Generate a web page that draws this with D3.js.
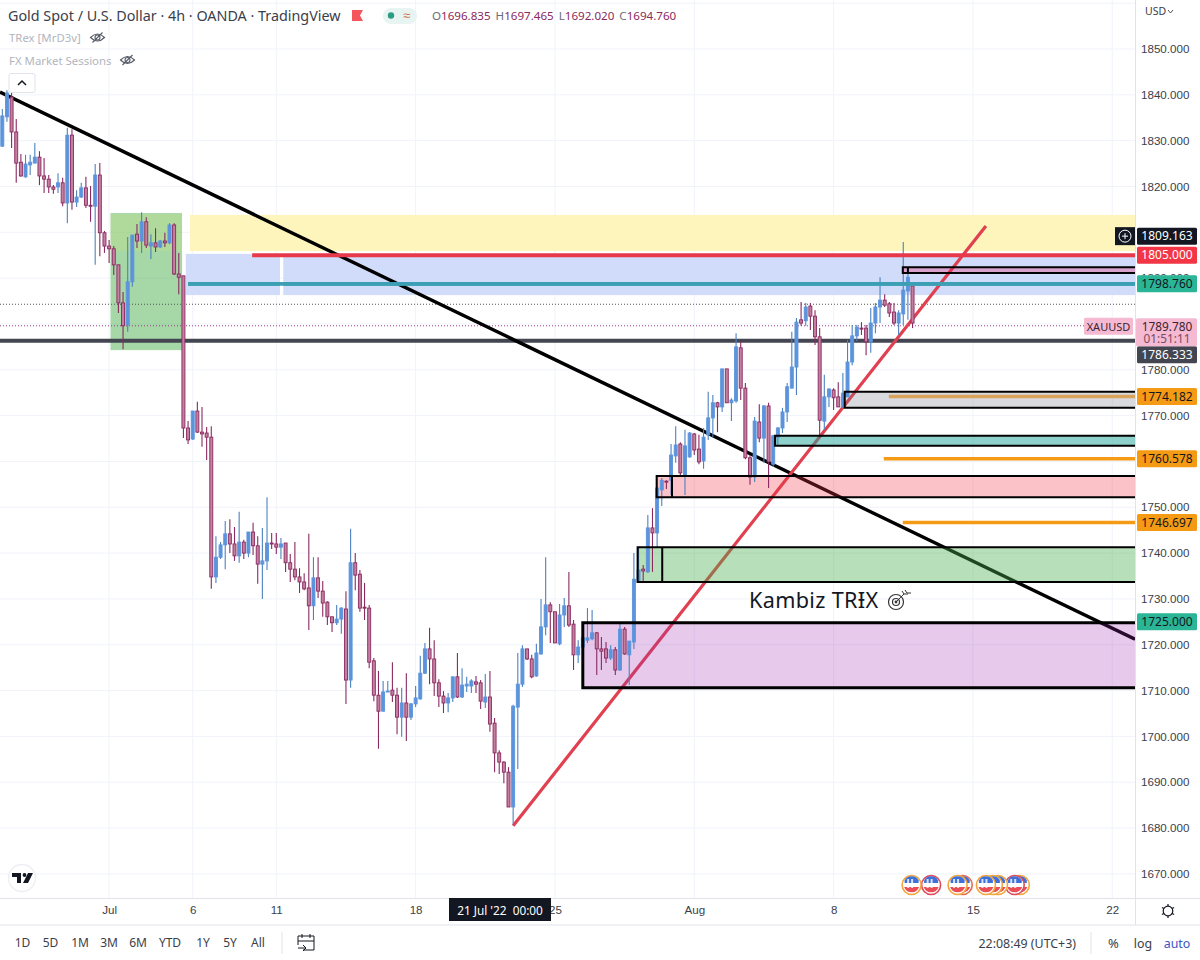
<!DOCTYPE html>
<html>
<head>
<meta charset="utf-8">
<title>XAUUSD 4h</title>
<script src="https://cdn.jsdelivr.net/npm/d3@7/dist/d3.min.js"></script>
<style>
html,body{margin:0;padding:0;background:#fff;}
svg{display:block;font-family:"Noto Sans",sans-serif;}
</style>
</head>
<body>
<svg id="chart" width="1200" height="960"></svg>
<script>
// 4h gold candles, one entry per bar
const opens = [
1828.8,1835.2,1839.5,1831.9,1825.3,1822.1,1824.7,1825.1,1826.4,1822.3,
1821.6,1819.9,1819.9,1820.8,1816.4,1831.2,1816.6,1817.7,1819.7,1815.9,
1815.7,1822.5,1809.9,1807.0,1806.4,1802.9,1794.6,1789.8,1799.2,1809.6,
1808.1,1812.3,1807.0,1807.7,1806.8,1808.1,1807.7,1811.6,1800.9,1800.5,
1767.3,1764.9,1771.0,1766.4,1766.2,1765.3,1734.8,1739.1,1741.8,1744.2,
1742.0,1739.4,1742.4,1740.0,1744.6,1741.6,1737.6,1738.3,1742.2,1742.0,
1741.3,1742.2,1737.9,1736.5,1734.8,1733.7,1732.4,1728.5,1734.6,1731.7,
1729.3,1726.1,1724.8,1725.6,1727.8,1712.3,1737.9,1735.4,1728.2,1728.0,
1716.5,1709.0,1705.5,1709.7,1710.1,1709.0,1704.2,1707.3,1704.2,1707.1,
1708.2,1713.8,1719.1,1716.9,1711.7,1708.8,1707.3,1708.4,1713.0,1708.6,
1711.0,1711.0,1711.9,1711.7,1707.5,1708.6,1702.9,1696.4,1694.4,1692.2,
1684.6,1706.4,1711.4,1719.1,1716.9,1713.2,1718.0,1723.9,1728.7,1727.2,
1720.2,1726.5,1728.5,1724.5,1717.8,1719.5,1721.0,1721.3,1722.6,1719.1,
1719.1,1717.1,1718.9,1714.5,1723.4,1717.8,1720.6,1733.7,1736.5,1735.9,
1745.5,1744.4,1753.8,1755.7,1755.9,1761.2,1763.8,1757.0,1761.0,1766.0,
1762.7,1760.1,1765.8,1769.5,1772.8,1771.9,1780.2,1772.8,1773.2,1784.8,
1776.0,1760.8,1756.6,1768.6,1765.1,1772.1,1759.4,1765.3,1767.3,1770.8,
1776.0,1780.6,1790.9,1790.7,1793.9,1791.7,1787.2,1768.8,1774.1,1775.6,
1774.1,1771.9,1774.1,1781.7,1787.4,1789.1,1789.1,1786.1,1790.2,1793.7,
1795.2,1794.4,1792.6,1790.2,1792.2,1797.2,1798.3];
const closes = [
1835.4,1840.4,1831.9,1825.1,1822.3,1824.9,1825.3,1826.4,1822.3,1821.6,
1819.9,1819.4,1820.8,1816.4,1831.2,1816.6,1817.7,1819.7,1815.9,1815.7,
1822.5,1809.9,1807.0,1806.4,1802.9,1794.6,1789.6,1799.2,1809.4,1808.1,
1812.3,1807.2,1807.7,1806.8,1808.1,1807.7,1811.6,1800.9,1800.2,1767.3,
1764.7,1771.0,1766.4,1766.0,1765.3,1734.8,1739.1,1741.8,1744.2,1742.0,
1739.4,1742.4,1740.0,1744.6,1741.6,1737.6,1738.3,1742.2,1742.0,1741.3,
1742.0,1737.9,1736.5,1734.8,1733.7,1732.2,1728.5,1734.6,1731.7,1729.1,
1726.1,1724.8,1725.6,1728.0,1712.3,1737.9,1735.2,1728.0,1728.0,1716.2,
1709.0,1705.5,1709.7,1709.9,1709.0,1704.2,1707.3,1704.2,1707.1,1708.4,
1713.8,1719.1,1716.9,1711.7,1708.8,1707.3,1708.4,1713.0,1708.6,1711.2,
1711.4,1712.1,1711.4,1707.7,1708.6,1702.7,1696.4,1694.4,1692.2,1684.6,
1706.6,1711.4,1719.1,1716.9,1713.0,1718.2,1723.9,1728.7,1727.2,1720.4,
1726.5,1728.5,1724.3,1717.8,1719.5,1721.5,1721.5,1722.6,1719.1,1718.6,
1717.1,1718.9,1714.5,1723.4,1718.0,1720.8,1734.3,1736.3,1736.1,1745.5,
1744.4,1754.2,1755.9,1755.5,1761.4,1763.6,1757.5,1763.4,1766.2,1762.5,
1759.9,1765.3,1769.5,1772.8,1771.9,1780.2,1772.8,1773.4,1785.0,1776.0,
1760.8,1756.6,1768.8,1765.1,1772.1,1759.9,1765.6,1767.3,1770.8,1776.3,
1780.6,1790.4,1790.2,1793.7,1791.7,1787.2,1769.0,1774.1,1775.8,1773.9,
1771.9,1774.9,1781.7,1787.4,1789.3,1788.9,1786.1,1790.2,1793.7,1795.2,
1794.1,1792.4,1790.2,1792.4,1797.4,1800.2,1790.2];
const highs = [
1836.9,1841.0,1840.4,1834.7,1827.1,1826.9,1826.9,1829.5,1827.7,1826.2,
1822.5,1820.3,1822.9,1821.9,1832.8,1832.5,1819.2,1820.8,1822.1,1820.1,
1824.9,1825.1,1810.3,1808.3,1807.0,1802.9,1797.0,1809.0,1809.4,1811.8,
1814.4,1813.3,1809.6,1810.9,1808.3,1809.9,1812.0,1812.0,1805.5,1800.5,
1768.8,1771.0,1773.0,1771.9,1767.5,1767.7,1743.7,1742.4,1747.0,1747.4,
1745.7,1749.0,1742.9,1744.6,1746.6,1743.7,1745.5,1752.2,1744.4,1744.4,
1743.3,1742.2,1739.8,1742.4,1736.7,1735.6,1744.2,1739.1,1739.1,1733.9,
1729.5,1726.1,1728.7,1728.2,1731.7,1745.3,1740.0,1736.3,1733.5,1728.7,
1717.1,1714.3,1712.1,1712.1,1716.2,1710.6,1710.6,1713.8,1707.3,1711.0,
1717.6,1720.4,1723.7,1721.0,1712.5,1709.9,1709.5,1713.0,1718.2,1714.9,
1713.0,1712.5,1713.2,1712.3,1713.6,1714.3,1704.0,1697.0,1694.6,1693.3,
1706.9,1718.2,1719.9,1719.1,1717.8,1720.2,1730.0,1739.1,1729.3,1727.2,
1728.9,1730.2,1735.9,1725.4,1721.0,1722.1,1728.0,1727.6,1722.8,1721.7,
1720.6,1719.9,1719.5,1724.8,1723.9,1720.8,1740.0,1741.3,1737.4,1748.3,
1749.8,1756.6,1756.4,1755.9,1763.8,1767.7,1764.2,1766.9,1766.4,1766.2,
1765.8,1767.3,1775.2,1774.5,1773.0,1780.2,1780.2,1773.8,1788.0,1786.1,
1777.1,1761.4,1769.7,1772.5,1772.3,1772.8,1765.8,1767.5,1771.7,1777.1,
1788.3,1791.3,1794.8,1794.6,1794.6,1793.0,1789.1,1778.9,1776.0,1776.0,
1777.3,1779.3,1786.5,1789.8,1789.8,1790.4,1789.8,1793.5,1794.6,1800.2,
1796.5,1794.8,1794.6,1793.0,1807.9,1802.2,1798.3];
const lows = [
1828.6,1834.1,1828.4,1820.8,1822.1,1821.9,1822.5,1825.1,1820.3,1818.6,
1818.6,1818.4,1818.6,1815.7,1812.0,1814.9,1815.5,1817.5,1815.3,1812.3,
1802.9,1804.8,1805.5,1803.3,1800.7,1792.4,1784.5,1788.3,1798.1,1806.6,
1805.5,1806.6,1804.2,1805.7,1806.6,1806.8,1807.4,1800.7,1796.5,1765.1,
1763.8,1764.7,1766.2,1763.2,1760.3,1732.2,1733.5,1738.7,1736.5,1740.0,
1738.3,1737.9,1738.7,1739.1,1739.6,1733.3,1730.0,1736.3,1740.9,1739.8,
1738.7,1735.9,1733.7,1734.1,1731.3,1731.9,1723.2,1725.4,1730.2,1726.1,
1724.3,1722.8,1724.3,1722.4,1707.1,1710.6,1731.9,1727.2,1725.4,1714.9,
1707.7,1697.3,1705.5,1709.7,1707.5,1700.5,1699.9,1699.0,1703.6,1706.4,
1708.0,1713.6,1711.4,1708.8,1706.4,1705.1,1705.3,1707.5,1708.4,1708.4,
1709.7,1709.5,1709.5,1706.0,1706.2,1701.0,1692.2,1691.8,1689.8,1684.6,
1680.7,1692.9,1710.8,1716.7,1712.7,1713.0,1717.8,1722.1,1720.4,1720.4,
1719.9,1723.9,1723.9,1714.5,1716.0,1717.8,1720.4,1721.0,1713.4,1714.5,
1716.0,1716.7,1713.4,1714.3,1717.8,1711.2,1719.1,1733.7,1733.9,1735.7,
1735.9,1741.1,1750.3,1754.0,1752.7,1759.7,1756.6,1752.7,1760.8,1761.4,
1759.4,1758.4,1764.7,1765.3,1766.4,1770.8,1772.8,1768.8,1772.8,1773.4,
1760.5,1754.9,1755.5,1764.2,1759.7,1754.2,1758.8,1763.6,1766.2,1768.6,
1776.0,1774.5,1789.6,1789.6,1788.7,1785.4,1765.3,1766.9,1771.9,1771.2,
1771.9,1771.7,1774.1,1781.0,1786.3,1787.6,1783.2,1783.7,1788.0,1790.2,
1793.7,1791.5,1789.8,1787.6,1789.8,1790.9,1789.1];

// price scale ticks; the rest of the grid carries no caption because tags cover it
const priceTicks = [1670,1680,1690,1700,1710,1720,1730,1740,1750,1770,1780,1800,1820,1830,1840,1850];
const gridPrices = [1670,1680,1690,1700,1710,1720,1730,1740,1750,1760,1770,1780,1790,1800,1810,1820,1830,1840,1850,1860];

// time scale ticks: bar index and its caption
const timeTickBars = [23,41,59,89,119,149,179,209,239];
const timeTickLabels = ["Jul","6","11","18","25","Aug","8","15","22"];

// filled zones: [first bar, last bar, top price, bottom price]
const sessionZone = [23.3,38.7,1814.2,1784.3];
const sessionHighlight = [23.3,38.7,1814.0,1805.9];
const supplyZone = [40.4,243.9,1813.8,1805.9];
const valueZoneLeft = [39.5,59.8,1805.3,1796.3];
const valueZoneRight = [60.5,243.9,1805.3,1796.3];

// outlined boxes: first bar, divider bar, top, bottom, fill, outline width
const boxStarts  = [193.9,181.4,166.4,140.9,136.8,125.0];
const boxDividers= [195.0,null,null,144.2,142.1,null];
const boxTops    = [1802.4,1775.2,1765.6,1756.8,1741.3,1724.8];
const boxBottoms = [1801.1,1771.7,1763.4,1752.2,1733.7,1710.6];
const boxFills   = ["rgba(233,30,99,.3)","rgba(120,123,134,.28)","rgba(38,166,154,.52)","rgba(242,54,69,.3)","rgba(76,175,80,.4)","rgba(156,39,176,.25)"];
const boxWidths  = [2,2,2,2,2,3];

// trend lines: [bar, price] end points
const fallingTrend = [[-0.5,1840.6],[243.9,1721.2]];
const risingTrend  = [[110.0,1680.5],[211.8,1811.4]];

// horizontal levels: starting bar, price, colour, width
const levelStarts = [53.8,40.0,60.5,190.9,189.8,193.9];
const levelPrices = [1805.0,1798.76,1798.76,1774.182,1760.578,1746.697];
const levelColors = ["#e8394a","#3d9fb4","#3d9fb4","#d9a45b","#f59a14","#f59a14"];
const levelWidths = [3.8,3.8,3.8,3.5,3.5,3.5];

// right-hand price tags
const tagPrices = [1809.163,1805.000,1798.760,1786.333,1774.182,1760.578,1746.697,1725.000];
const tagFills  = ["#131722","#f23645","#2bb597","#434651","#f59a14","#f59a14","#f59a14","#2bb597"];
const tagInks   = ["#ffffff","#ffffff","#131722","#ffffff","#131722","#131722","#131722","#131722"];
const tagShifts = [0,0,0,14,0,0,0,0];

// economic calendar markers: bar and ring colour
const eventBars  = [195.8,200.0,205.7,206.8,211.8,213.3,214.4,218.0,219.1];
const eventRings = ["#f0a63c","#dd4a5a","#f0a63c","#e66a50","#f0a63c","#f0a63c","#f0a63c","#dd4a5a","#f0a63c"];

const rangeButtons = ["1D","5D","1M","3M","6M","YTD","1Y","5Y","All"];
const rangeButtonX = [22.5,50.5,80,109,138,170,203,230,258];

const W = 1135, TOP = 0, BOTTOM = 898;
const x = d3.scaleLinear().domain([0,243.9]).range([2.3,W]);
const y = d3.scaleLinear().domain([1850,1670]).range([49,873.9]);

const svg = d3.select("#chart");
const defs = svg.append("defs");
defs.append("clipPath").attr("id","pane").append("rect").attr("x",0).attr("y",0).attr("width",W).attr("height",BOTTOM);

const pane = svg.append("g").attr("clip-path","url(#pane)");

// grid
pane.append("g").selectAll("line").data(gridPrices).join("line")
  .attr("x1",0).attr("x2",W).attr("y1",d=>y(d)).attr("y2",d=>y(d))
  .attr("stroke","#f0f3fa").attr("stroke-width",1);
pane.append("g").selectAll("line").data(timeTickBars).join("line")
  .attr("x1",d=>x(d)).attr("x2",d=>x(d)).attr("y1",TOP).attr("y2",BOTTOM)
  .attr("stroke","#f0f3fa").attr("stroke-width",1);

// soft background zones
function zone(sel, z, fill){
  sel.append("rect").attr("x",x(z[0])).attr("width",x(z[1])-x(z[0]))
    .attr("y",y(z[2])).attr("height",y(z[3])-y(z[2])).attr("fill",fill);
}
zone(pane, sessionZone, "rgba(76,175,80,.5)");
zone(pane, sessionHighlight, "rgba(251,238,90,.14)");
zone(pane, supplyZone, "#fdf5bb");
zone(pane, valueZoneLeft, "#d1dcfa");
zone(pane, valueZoneRight, "#d1dcfa");

// last-price guides
pane.append("line").attr("x1",0).attr("x2",W).attr("y1",y(1794.3)).attr("y2",y(1794.3))
  .attr("stroke","#555").attr("stroke-dasharray","1 2");
pane.append("line").attr("x1",0).attr("x2",1084).attr("y1",y(1789.6)).attr("y2",y(1789.6))
  .attr("stroke","#9a3b86").attr("stroke-dasharray","1 2");

// support line
pane.append("line").attr("x1",0).attr("x2",W).attr("y1",y(1786.333)).attr("y2",y(1786.333))
  .attr("stroke","#434651").attr("stroke-width",4);

// trend lines sit beneath the tinted boxes
const trend = d3.line().x(d=>x(d[0])).y(d=>y(d[1]));
pane.append("path").attr("d",trend(fallingTrend)).attr("fill","none").attr("stroke","#000").attr("stroke-width",3.4);
pane.append("path").attr("d",trend(risingTrend)).attr("fill","none").attr("stroke","#e0404f").attr("stroke-width",3.2);

// tinted box fills
boxStarts.forEach((s,k)=>{
  pane.append("rect").attr("x",x(s)).attr("width",W-x(s))
    .attr("y",y(boxTops[k])).attr("height",y(boxBottoms[k])-y(boxTops[k]))
    .attr("fill",boxFills[k]);
});

// candles
const bars = d3.range(opens.length);
const UP_BODY="#5c94dc", UP_WICK="#4c82c0", DN_EDGE="#8a2a60", DN_BODY="#c27f9f";
const candle = pane.append("g");
candle.selectAll("line").data(bars).join("line")
  .attr("x1",i=>x(i)).attr("x2",i=>x(i))
  .attr("y1",i=>y(highs[i])).attr("y2",i=>y(lows[i]))
  .attr("stroke",i=>closes[i]>=opens[i]?UP_WICK:DN_EDGE).attr("stroke-width",1.1);
candle.selectAll("rect").data(bars).join("rect")
  .attr("x",i=>x(i)-1.5).attr("width",3)
  .attr("y",i=>y(Math.max(opens[i],closes[i])))
  .attr("height",i=>Math.max(1,Math.abs(y(opens[i])-y(closes[i]))))
  .attr("fill",i=>closes[i]>=opens[i]?UP_BODY:DN_BODY)
  .attr("stroke",i=>closes[i]>=opens[i]?UP_BODY:DN_EDGE).attr("stroke-width",.9);

// box outlines and dividers
boxStarts.forEach((s,k)=>{
  const g = pane.append("g").attr("fill","none").attr("stroke","#000").attr("stroke-width",boxWidths[k]);
  g.append("path").attr("d",`M${W+4},${y(boxTops[k])}H${x(s)}V${y(boxBottoms[k])}H${W+4}`);
  if(boxDividers[k]!==null){
    g.append("line").attr("x1",x(boxDividers[k])).attr("x2",x(boxDividers[k]))
      .attr("y1",y(boxTops[k])).attr("y2",y(boxBottoms[k]));
  }
});

// horizontal levels
pane.append("g").selectAll("line").data(levelPrices).join("line")
  .attr("x1",(d,i)=>x(levelStarts[i])).attr("x2",W)
  .attr("y1",d=>y(d)).attr("y2",d=>y(d))
  .attr("stroke",(d,i)=>levelColors[i]).attr("stroke-width",(d,i)=>levelWidths[i]);
pane.append("line").attr("x1",x(40)).attr("x2",x(59.8)).attr("y1",y(1798.76)).attr("y2",y(1798.76))
  .attr("stroke","#3d9fb4").attr("stroke-width",3.8);

// author signature with a small target mark
const sig = svg.append("g");
sig.append("text").attr("x",749).attr("y",608).attr("font-size",21.6).attr("letter-spacing",.35)
  .attr("fill","#131722").text("Kambiz TRƗX");
const tgt = sig.append("g").attr("transform","translate(896,602)").attr("fill","none").attr("stroke","#333");
tgt.append("circle").attr("r",7.5).attr("stroke-width",1.2);
tgt.append("circle").attr("r",3.5).attr("stroke-width",1.2);
tgt.append("circle").attr("r",1.4).attr("fill","#333").attr("stroke","none");
tgt.append("path").attr("d","M0,0L8,-8M6,-11L8,-8L12,-8M9,-12L11,-9L15,-9").attr("stroke-width",1);

// calendar flags
const flags = svg.append("g");
d3.range(eventBars.length).reverse().forEach(k=>{
  const g = flags.append("g").attr("transform",`translate(${x(eventBars[k])},885)`);
  g.append("circle").attr("r",9.5).attr("fill","#fff").attr("stroke",eventRings[k]).attr("stroke-width",1.6);
  g.append("path").attr("d","M-7,-4.5A8,8 0 0 1 7,-4.5V-2H-7Z").attr("fill","#3f6fd8");
  g.append("path").attr("d","M-7.5,2H7.5A8,8 0 0 1 -7.5,2Z").attr("fill","#ea4d55");
  g.append("rect").attr("x",-4.5).attr("y",-6).attr("width",2).attr("height",9).attr("fill","#fff").attr("opacity",.8);
  g.append("rect").attr("x",-0.5).attr("y",-6).attr("width",2).attr("height",9).attr("fill","#fff").attr("opacity",.8);
});

// header legend
const title = svg.append("g");
title.append("text").attr("x",8).attr("y",20.5).attr("fill","#3a3e4a").attr("font-size",14.35)
  .text("Gold Spot / U.S. Dollar · 4h · OANDA · TradingView");
title.append("path").attr("d","M352,10H363L360,15.5L363,21H352Z").attr("fill","#f4565e");
title.append("rect").attr("x",383).attr("y",8).attr("width",34).attr("height",16).attr("rx",8).attr("fill","#e8f4f2");
title.append("circle").attr("cx",391).attr("cy",15.5).attr("r",3.2).attr("fill","#2a9d82");
title.append("text").attr("x",403).attr("y",20).attr("fill","#d26a4a").attr("font-size",13).text("≈");
const ohlc = title.append("text").attr("x",432).attr("y",20).attr("font-size",11.6).attr("fill","#8a2a60");
["O1696.835","H1697.465","L1692.020","C1694.760"].forEach((t,k)=>{
  ohlc.append("tspan").attr("dx",k?5:0).attr("fill","#6a6d78").text(t[0]);
  ohlc.append("tspan").text(t.slice(1));
});
function eyeOff(g,cx,cy){
  const e = g.append("g").attr("transform",`translate(${cx},${cy})`).attr("fill","none").attr("stroke","#555a66").attr("stroke-width",1.1);
  e.append("path").attr("d","M-7,0Q0,-7 7,0Q0,7 -7,0Z");
  e.append("circle").attr("r",2.5);
  e.append("line").attr("x1",-5).attr("y1",5).attr("x2",5).attr("y2",-5);
}
const legend = svg.append("g").attr("font-size",11.4).attr("fill","#b2b5be");
legend.append("text").attr("x",9).attr("y",42).text("TRex [MrD3v]");
legend.append("text").attr("x",9).attr("y",65).text("FX Market Sessions");
eyeOff(legend,97.5,37.5);
eyeOff(legend,127.5,60);
svg.append("rect").attr("x",9).attr("y",73.5).attr("width",26).attr("height",19).attr("rx",2)
  .attr("fill","#fff").attr("stroke","#e0e3eb");
svg.append("path").attr("d","M18,85L22,81L26,85").attr("fill","none").attr("stroke","#131722").attr("stroke-width",1.5);

// logo badge
svg.append("circle").attr("cx",22).attr("cy",878).attr("r",13.5).attr("fill","#fff").attr("stroke","#eeeff3").attr("stroke-width",1.5);
svg.append("path").attr("d","M12,873H21V883H17V877H12ZM33,873L28,883H23L28,873Z").attr("fill","#131722");
svg.append("circle").attr("cx",24.5).attr("cy",875).attr("r",1.9).attr("fill","#131722");

// frame lines
const frame = svg.append("g").attr("stroke","#e0e3eb");
frame.append("line").attr("x1",W+.5).attr("x2",W+.5).attr("y1",0).attr("y2",925);
frame.append("line").attr("x1",0).attr("x2",1200).attr("y1",898.5).attr("y2",898.5);
frame.append("line").attr("x1",0).attr("x2",1200).attr("y1",925).attr("y2",925);
frame.append("line").attr("x1",282).attr("x2",282).attr("y1",932).attr("y2",954);
frame.append("line").attr("x1",1091).attr("x2",1091).attr("y1",932).attr("y2",954);

// price axis
const yAxis = svg.append("g").attr("transform",`translate(${W},0)`)
  .call(d3.axisRight(y).tickValues(priceTicks).tickSize(0).tickPadding(6).tickFormat(d3.format(".3f")));
yAxis.select(".domain").remove();
yAxis.selectAll("text").attr("font-size",11.6).attr("font-family","inherit").attr("fill","#3a3e4a");
svg.append("text").attr("x",1145).attr("y",15).attr("font-size",10.5).attr("fill","#3a3e4a").text("USD");
svg.append("path").attr("d","M1168,10L1170.5,13L1173,10").attr("fill","none").attr("stroke","#555");

// time axis
const xAxis = svg.append("g").attr("transform",`translate(0,${BOTTOM})`)
  .call(d3.axisBottom(x).tickValues(timeTickBars).tickSize(0).tickPadding(8).tickFormat((d,i)=>timeTickLabels[i]));
xAxis.select(".domain").remove();
xAxis.selectAll("text").attr("font-size",11.6).attr("font-family","inherit").attr("fill","#3a3e4a");

// crosshair date tag
svg.append("rect").attr("x",449).attr("y",898).attr("width",102).attr("height",23).attr("fill","#131722");
svg.append("text").attr("x",500).attr("y",915).attr("text-anchor","middle").attr("font-size",11.8).attr("fill","#fff")
  .attr("xml:space","preserve").text("21 Jul '22  00:00");

// price tags on the right
const tags = svg.append("g");
tagPrices.forEach((p,k)=>{
  const cy = y(p)+tagShifts[k];
  tags.append("rect").attr("x",W+2).attr("y",cy-8.5).attr("width",60).attr("height",17).attr("rx",1.5).attr("fill",tagFills[k]);
  tags.append("text").attr("x",W+32).attr("y",cy+4.2).attr("text-anchor","middle")
    .attr("font-size",12).attr("fill",tagInks[k]).text(d3.format(".3f")(p));
});
// live price tag with countdown
const liveY = y(1789.6);
tags.append("rect").attr("x",W+1).attr("y",liveY-7.5).attr("width",61).attr("height",28).attr("rx",1.5).attr("fill","#f5b9d2");
tags.append("text").attr("x",W+32).attr("y",liveY+5).attr("text-anchor","middle").attr("font-size",11.8).attr("fill","#3a2430").text("1789.780");
tags.append("text").attr("x",W+32).attr("y",liveY+17.5).attr("text-anchor","middle").attr("font-size",11.8).attr("fill","#7b4a63").text("01:51:11");
tags.append("rect").attr("x",1084).attr("y",liveY-8).attr("width",49).attr("height",17).attr("rx",1.5).attr("fill","#f5b9d2");
tags.append("text").attr("x",1108.5).attr("y",liveY+5).attr("text-anchor","middle").attr("font-size",11).attr("fill","#3a2430").text("XAUUSD");
// add-alert button next to the crosshair price
tags.append("rect").attr("x",1115).attr("y",y(1809.163)-9).attr("width",20).attr("height",18).attr("fill","#131722");
tags.append("circle").attr("cx",1125).attr("cy",y(1809.163)).attr("r",6).attr("fill","none").attr("stroke","#fff");
tags.append("path").attr("d",`M1122,${y(1809.163)}H1128M1125,${y(1809.163)-3}V${y(1809.163)+3}`).attr("stroke","#fff");

// gear
const gear = svg.append("g").attr("transform","translate(1168,911)").attr("fill","none").attr("stroke","#131722");
gear.append("circle").attr("r",4.8).attr("stroke-width",1.2);
d3.range(6).forEach(k=>{
  const a = k*Math.PI/3+Math.PI/6;
  gear.append("line").attr("x1",4.8*Math.cos(a)).attr("y1",4.8*Math.sin(a)).attr("x2",7*Math.cos(a)).attr("y2",7*Math.sin(a)).attr("stroke-width",1.2);
});

// bottom toolbar
const tb = svg.append("g").attr("font-size",12).attr("fill","#3a3e4a");
tb.selectAll("text.range").data(rangeButtons).join("text").attr("class","range")
  .attr("x",(d,i)=>rangeButtonX[i]).attr("y",947).attr("text-anchor","middle").text(d=>d);
tb.append("text").attr("x",1076).attr("y",948).attr("text-anchor","end").attr("font-size",12.4).text("22:08:49 (UTC+3)");
tb.append("text").attr("x",1113.5).attr("y",948).attr("text-anchor","middle").attr("font-size",13).text("%");
tb.append("text").attr("x",1143).attr("y",948).attr("text-anchor","middle").attr("font-size",12.4).text("log");
tb.append("text").attr("x",1177).attr("y",948).attr("text-anchor","middle").attr("font-size",12.4).attr("fill","#3b55c4").text("auto");
const cal = svg.append("g").attr("fill","none").attr("stroke","#131722").attr("stroke-width",1);
cal.append("path").attr("d","M304,936H314V950H303M298,945V936H304M298,941H314M302,934V938M310,934V938");
cal.append("path").attr("d","M298,948H306M303,945L306,948L303,951");
</script>
</body>
</html>
